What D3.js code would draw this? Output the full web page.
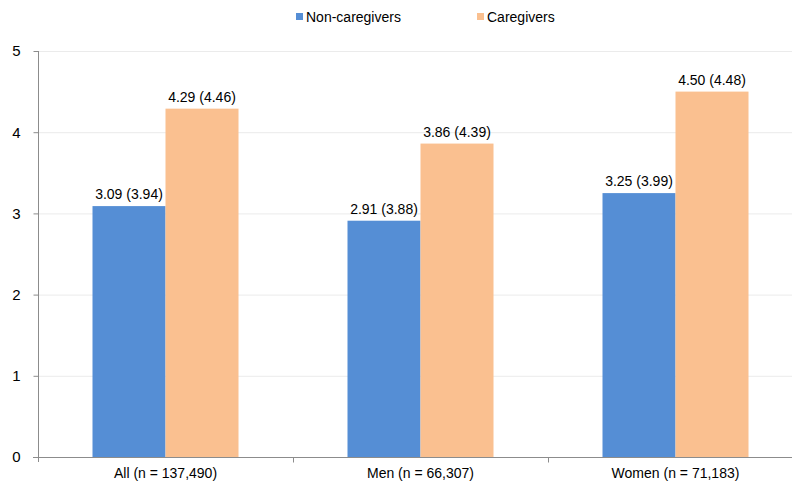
<!DOCTYPE html>
<html>
<head>
<meta charset="utf-8">
<script src="https://cdn.jsdelivr.net/npm/d3@7"></script>
<style>
  html, body { margin: 0; padding: 0; background: #fff; }
  svg { display: block; font-family: "Liberation Sans", Arial, sans-serif; }
</style>
</head>
<body>
<svg id="chart" width="792" height="483"></svg>
<script>
// Groups along the x axis
const categories = ["All (n = 137,490)", "Men (n = 66,307)", "Women (n = 71,183)"];
// Series names
const seriesNames = ["Non-caregivers", "Caregivers"];
// Mean values per group
const nonCaregivers = [3.09, 2.91, 3.25];
const caregivers = [4.29, 3.86, 4.50];
// Values shown in parentheses
const nonCaregiversParen = [3.94, 3.88, 3.99];
const caregiversParen = [4.46, 4.39, 4.48];
// Y axis ticks
const yTicks = [0, 1, 2, 3, 4, 5];

const colors = ["#558ED5", "#FAC090"];

const svg = d3.select("#chart");
const margin = { left: 38, top: 51, bottom: 457 };
const plotRight = 803;

const x = d3.scaleBand().domain(categories).range([margin.left, plotRight]).paddingInner(0).paddingOuter(0);
const y = d3.scaleLinear().domain([0, 5]).range([margin.bottom, margin.top]);

const barW = 73;

// Gridlines
svg.append("g").selectAll("line").data(yTicks.slice(1)).join("line")
  .attr("x1", margin.left).attr("x2", plotRight)
  .attr("y1", d => y(d) + 0.5).attr("y2", d => y(d) + 0.5)
  .attr("stroke", "#ebebeb").attr("stroke-width", 1);

// Bars with value labels
const series = [
  { name: seriesNames[0], values: nonCaregivers, paren: nonCaregiversParen },
  { name: seriesNames[1], values: caregivers, paren: caregiversParen }
];

series.forEach((s, si) => {
  const g = svg.append("g");
  g.selectAll("rect").data(categories).join("rect")
    .attr("x", (c) => x(c) + x.bandwidth() / 2 - barW + si * barW)
    .attr("y", (c, i) => y(s.values[i]))
    .attr("width", barW)
    .attr("height", (c, i) => y(0) - y(s.values[i]))
    .attr("fill", colors[si]);
  g.selectAll("text").data(categories).join("text")
    .attr("x", (c) => x(c) + x.bandwidth() / 2 - barW / 2 + si * barW)
    .attr("y", (c, i) => y(s.values[i]) - 7)
    .attr("text-anchor", "middle")
    .attr("font-size", 14)
    .attr("fill", "#000")
    .text((c, i) => `${s.values[i].toFixed(2)} (${s.paren[i].toFixed(2)})`);
});

// Y axis
const yAxis = d3.axisLeft(y).tickValues(yTicks).tickSize(5).tickPadding(13).tickFormat(d3.format("d"));
const yg = svg.append("g").attr("transform", `translate(${margin.left + 0.5},0)`).call(yAxis);
yg.select(".domain").remove();
yg.append("line").attr("x1", 0).attr("x2", 0).attr("y1", margin.top).attr("y2", margin.bottom + 5).attr("stroke", "#8c8c8c");
yg.selectAll(".tick line").attr("stroke", "#8c8c8c");
yg.selectAll(".tick text").attr("font-size", 15).attr("fill", "#000").attr("font-family", "Liberation Sans, Arial, sans-serif");

// X axis
const xg = svg.append("g").attr("transform", `translate(0,${margin.bottom + 0.5})`);
xg.append("line").attr("x1", margin.left - 5).attr("x2", plotRight).attr("y1", 0).attr("y2", 0).attr("stroke", "#8c8c8c");
xg.selectAll("line.tk").data(categories.slice(1).map((c) => x(c))).join("line")
  .attr("class", "tk")
  .attr("x1", d => Math.round(d) + 0.5).attr("x2", d => Math.round(d) + 0.5)
  .attr("y1", 0).attr("y2", 5).attr("stroke", "#8c8c8c");
xg.selectAll("text").data(categories).join("text")
  .attr("x", c => x(c) + x.bandwidth() / 2)
  .attr("y", 20)
  .attr("text-anchor", "middle")
  .attr("font-size", 14)
  .attr("fill", "#000")
  .text(c => c);

// Legend
const legend = svg.append("g");
const legendItems = [
  { label: seriesNames[0], x: 296 },
  { label: seriesNames[1], x: 477 }
];
legendItems.forEach((it, i) => {
  legend.append("rect").attr("x", it.x).attr("y", 13).attr("width", 7).attr("height", 7).attr("fill", colors[i]);
  legend.append("text").attr("x", it.x + 10).attr("y", 21.5).attr("font-size", 14).attr("fill", "#000").text(it.label);
});
</script>
</body>
</html>
